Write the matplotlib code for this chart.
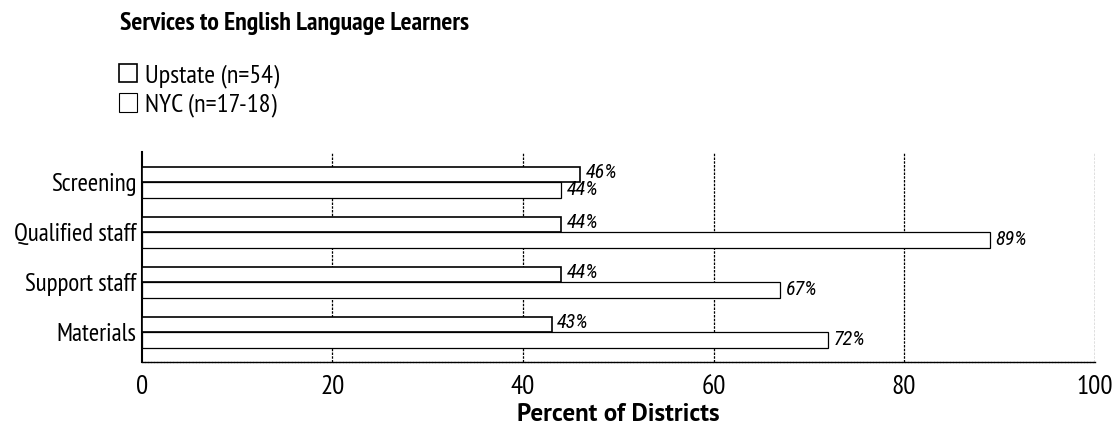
import matplotlib

matplotlib.use("Agg")
import matplotlib.pyplot as plt
import numpy as np
from matplotlib.patches import Patch

categories = ["Screening", "Qualified staff", "Support staff", "Materials"]
upstate = [46, 44, 44, 43]
nyc = [44, 89, 67, 72]
series_names = ["Upstate (n=54)", "NYC (n=17-18)"]
xticks = [0, 20, 40, 60, 80, 100]

plt.rcParams["font.family"] = ["PT Sans Narrow", "DejaVu Sans"]
ITALIC = ["Roboto Condensed", "DejaVu Sans"]
BOLD = ["PT Sans", "DejaVu Sans"]

fig = plt.figure(figsize=(11.17, 4.26), dpi=100)
ax = fig.add_axes([0.127, 0.150, 0.853, 0.493])

y = np.arange(len(categories))
h = 0.31
ax.barh(y - h / 2, upstate, height=h, color="white", edgecolor="black", linewidth=1.2, zorder=3)
ax.barh(y + h / 2, nyc, height=h, color="white", edgecolor="black", linewidth=0.9, zorder=3)

for yi, v in zip(y, upstate):
    ax.text(v + 0.6, yi - h / 2 - 0.03, f"{v}%", va="center", ha="left", style="italic",
            fontsize=14.5, family=ITALIC)
for yi, v in zip(y, nyc):
    ax.text(v + 0.6, yi + h / 2, f"{v}%", va="center", ha="left", style="italic",
            fontsize=14.5, family=ITALIC)

ax.set_xlim(0, 100)
ax.set_ylim(3.6, -0.6)
ax.set_yticks(y)
ax.set_yticklabels(categories, fontsize=18)
ax.set_xticks(xticks)
ax.set_xticklabels([str(t) for t in xticks], fontsize=19.5)
ax.tick_params(length=0, pad=4)
ax.tick_params(axis="x", pad=9)

for x in xticks[1:]:
    ax.axvline(x, color="black", linestyle=(0, (2, 1)), linewidth=0.9, zorder=1)

for side in ["top", "right"]:
    ax.spines[side].set_visible(False)
ax.spines["left"].set_linewidth(1.5)
ax.spines["bottom"].set_linestyle((0, (1.5, 0.8)))
ax.spines["bottom"].set_linewidth(1.0)

ax.set_xlabel("Percent of Districts", fontsize=18, fontweight="bold", labelpad=3,
              family=BOLD)

fig.text(0.107, 0.945, "Services to English Language Learners", fontsize=18.5,
         fontweight="bold", va="center", ha="left", family=["PT Sans Narrow", "DejaVu Sans"])

handles = [Patch(facecolor="white", edgecolor="black", linewidth=1.2),
           Patch(facecolor="white", edgecolor="black", linewidth=0.8)]
fig.legend(handles, series_names, loc="upper left", bbox_to_anchor=(0.097, 0.875),
           frameon=False, fontsize=19, handlelength=0.7, handleheight=0.7,
           handletextpad=0.3, labelspacing=0.2, borderaxespad=0)

fig.savefig("out.png", dpi=100)
